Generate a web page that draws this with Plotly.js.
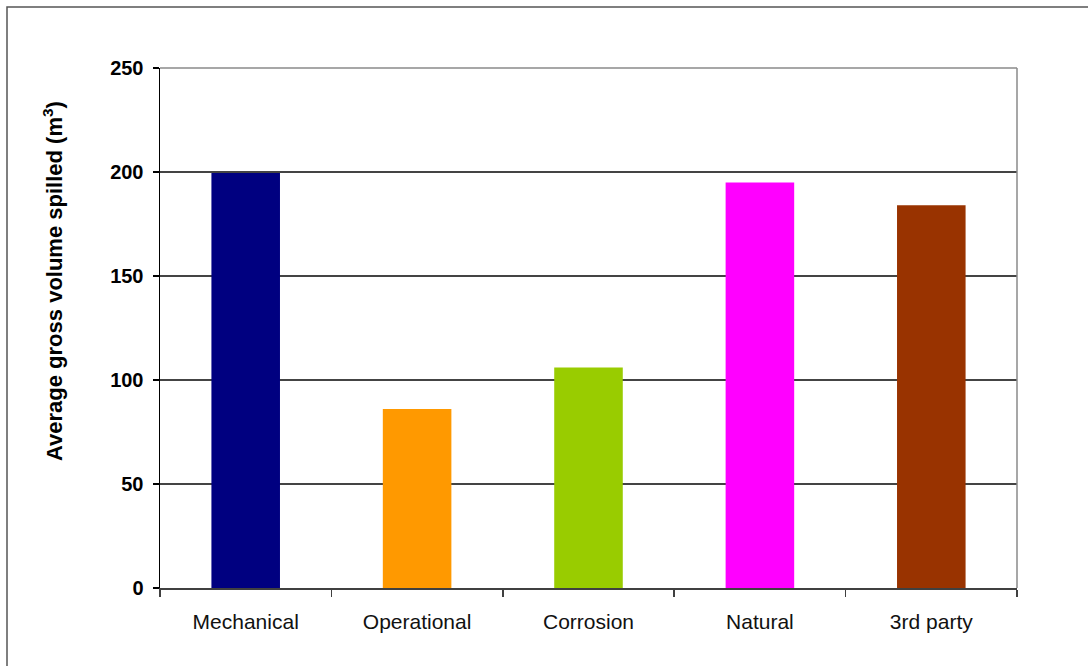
<!DOCTYPE html>
<html>
<head>
<meta charset="utf-8">
<script src="https://cdn.plot.ly/plotly-3.0.1.min.js"></script>
<style>
  html, body { margin: 0; padding: 0; background: #fff; }
  #chart { width: 1088px; height: 666px; }
</style>
</head>
<body>
<div id="chart"></div>
<script>
// Average gross volume spilled per incident cause
const causes = ["Mechanical", "Operational", "Corrosion", "Natural", "3rd party"];
const avgVolume = [199.5, 86, 106, 195, 184];
const barColors = ["#000080", "#FF9900", "#99CC00", "#FF00FF", "#993300"];
const yTicks = [0, 50, 100, 150, 200, 250];
const yTitle = "Average gross volume spilled (m<sup>3</sup>)";

const font = "Liberation Sans, Arial, sans-serif";

const trace = {
  type: "bar",
  x: causes,
  y: avgVolume,
  marker: { color: barColors, line: { width: 0 } },
  hoverinfo: "x+y"
};

const layout = {
  width: 1088,
  height: 666,
  margin: { l: 160, r: 71, t: 68, b: 78 },
  paper_bgcolor: "#ffffff",
  plot_bgcolor: "#ffffff",
  showlegend: false,
  bargap: 0.6,
  font: { family: font, color: "#000" },
  xaxis: {
    type: "category",
    tickson: "boundaries",
    ticks: "outside",
    ticklen: 7,
    tickcolor: "#404040",
    tickwidth: 1.5,
    showline: true,
    linecolor: "#404040",
    linewidth: 1.5,
    showgrid: false,
    zeroline: false,
    tickfont: { family: font, size: 21, color: "#111" },
    ticklabelstandoff: 14
  },
  yaxis: {
    range: [0, 250],
    tickvals: yTicks,
    ticktext: yTicks.map(String),
    ticks: "outside",
    ticklen: 6,
    tickcolor: "#000",
    tickwidth: 1.5,
    showline: true,
    linecolor: "#000",
    linewidth: 1.5,
    showgrid: true,
    gridcolor: "#444444",
    gridwidth: 1.5,
    zeroline: false,
    tickfont: { family: font, size: 20, color: "#000", weight: "bold" },
    ticklabelstandoff: 5
  },
  shapes: [
    // plot area frame: top and right edges
    { type: "line", xref: "paper", yref: "paper", x0: 0, x1: 1, y0: 1, y1: 1,
      line: { color: "#8a8a8a", width: 1.5 } },
    { type: "line", xref: "paper", yref: "paper", x0: 1, x1: 1, y0: 0, y1: 1,
      line: { color: "#8a8a8a", width: 1.5 } },
    // chart area frame
    { type: "rect", xref: "paper", yref: "paper",
      x0: (7 - 160) / 857, x1: (1100 - 160) / 857,
      y0: (588 - 680) / 520, y1: (588 - 7) / 520,
      line: { color: "#555555", width: 1.5 }, fillcolor: "rgba(0,0,0,0)" }
  ],
  annotations: [
    { text: yTitle, textangle: -90, showarrow: false,
      xref: "paper", yref: "paper",
      x: (53 - 160) / 857, y: (588 - 281) / 520,
      xanchor: "center", yanchor: "middle",
      font: { family: font, size: 22, color: "#000", weight: "bold" } }
  ]
};

Plotly.newPlot("chart", [trace], layout, { displayModeBar: false, staticPlot: true });
</script>
</body>
</html>
